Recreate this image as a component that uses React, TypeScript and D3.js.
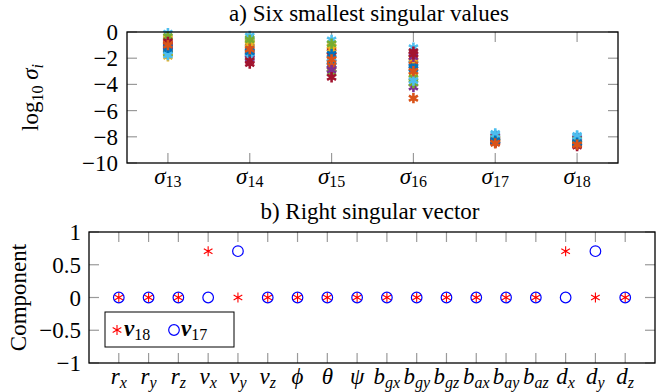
import React, { useRef, useEffect } from 'react';
import * as d3 from 'd3';

// a) log10 of the six smallest singular values, one value per run
const sigmaLabels = ['13', '14', '15', '16', '17', '18'];
const sigma13 = [-1.3, -1.6, -1.85, -0.9, -1.65, -0.1, -0.7, -1.4, -0.6, -0.45, -1.1, -0.35, -1.75, -0.75, -1.2, -1.0];
const sigma14 = [-1.6, -1.1, -0.7, -1.8, -0.5, -0.3, -2.4, -1.2, -1.7, -0.9, -2.0, -0.6, -1.9, -2.2, -1.5, -1.3];
const sigma15 = [-2.5, -1.8, -1.1, -2.8, -3.1, -0.6, -1.5, -2.3, -2.6, -1.3, -2.9, -0.9, -2.0, -3.45, -1.7, -2.1];
const sigma16 = [-2.4, -5.05, -3.3, -4.2, -3.5, -1.2, -1.5, -2.6, -2.2, -2.0, -1.9, -3.9, -3.7, -1.7, -2.8, -3.0];
const sigma17 = [-8.3, -8.4, -8.1, -8.0, -8.2, -7.75, -8.3, -8.35, -8.45, -8.2, -7.95, -8.1, -7.85, -8.4, -8.3, -8.5];
const sigma18 = [-8.45, -8.5, -8.3, -8.15, -8.4, -7.9, -8.55, -8.5, -8.6, -8.35, -8.1, -8.25, -8.0, -8.7, -8.45, -8.6];
const sigmaTicks = [0, -2, -4, -6, -8, -10];

// b) right singular vectors
const states = [
    ['r', 'x'], ['r', 'y'], ['r', 'z'], ['v', 'x'], ['v', 'y'], ['v', 'z'],
    ['ϕ', ''], ['θ', ''], ['ψ', ''], ['b', 'gx'], ['b', 'gy'], ['b', 'gz'],
    ['b', 'ax'], ['b', 'ay'], ['b', 'az'], ['d', 'x'], ['d', 'y'], ['d', 'z'],
];
const v18 = [0, 0, 0, 0.707, 0, 0, 0, 0, 0, 0, 0, 0, 0, 0, 0, 0.707, 0, 0];
const v17 = [0, 0, 0, 0, 0.707, 0, 0, 0, 0, 0, 0, 0, 0, 0, 0, 0, 0.707, 0];
const componentTicks = [1, 0.5, 0, -0.5, -1];

const runColors = ['#0072BD', '#D95319', '#EDB120', '#7E2F8E', '#77AC30', '#4DBEEE', '#A2142F'];

const FONT = 'Liberation Serif';

const asterisk = (x: number, y: number, r: number) => {
    const c = r * Math.cos(Math.PI / 6);
    const s = r * Math.sin(Math.PI / 6);
    return `M${x},${y - r}L${x},${y + r}M${x + c},${y - s}L${x - c},${y + s}M${x - c},${y - s}L${x + c},${y + s}`;
};

const fmt = (v: number) => (v < 0 ? '\u2212' + Math.abs(v) : String(v));

const App = () => {
    const svgRef = useRef<SVGSVGElement>(null);

    useEffect(() => {
        const svg = d3.select(svgRef.current);
        svg.selectAll('*').remove();

        const tickColor = '#9a9a9a';
        const tickLen = 10;
        const fs = 23;
        const sub = 16;

        // text helper: font set on each element
        const txt = (g: any, x: number, y: number, anchor = 'middle') =>
            g.append('text').attr('x', x).attr('y', y).attr('text-anchor', anchor)
                .attr('font-family', FONT).attr('font-size', fs).attr('fill', '#000');

        // ---------- panel a ----------
        const a = { left: 127, right: 618, top: 32, bottom: 163 };
        const xA = d3.scalePoint<string>().domain(sigmaLabels).range([a.left, a.right]).padding(0.5);
        const yA = d3.scaleLinear().domain([-10, 0]).range([a.bottom, a.top]);
        const columns = [sigma13, sigma14, sigma15, sigma16, sigma17, sigma18];
        const gA = svg.append('g');

        // ticks (inside, both sides)
        sigmaLabels.forEach(l => {
            const x = xA(l)!;
            gA.append('line').attr('x1', x).attr('x2', x).attr('y1', a.bottom).attr('y2', a.bottom - tickLen)
                .attr('stroke', tickColor).attr('stroke-width', 1.2);
            gA.append('line').attr('x1', x).attr('x2', x).attr('y1', a.top).attr('y2', a.top + tickLen)
                .attr('stroke', tickColor).attr('stroke-width', 1.2);
        });
        sigmaTicks.forEach(t => {
            const y = yA(t);
            gA.append('line').attr('x1', a.left).attr('x2', a.left + tickLen).attr('y1', y).attr('y2', y)
                .attr('stroke', tickColor).attr('stroke-width', 1.2);
            gA.append('line').attr('x1', a.right).attr('x2', a.right - tickLen).attr('y1', y).attr('y2', y)
                .attr('stroke', tickColor).attr('stroke-width', 1.2);
            txt(gA, a.left - 9, y, 'end').attr('dy', '0.35em').text(fmt(t));
        });

        // points, run by run
        const nRuns = sigma13.length;
        for (let run = 0; run < nRuns; run++) {
            columns.forEach((col, ci) => {
                gA.append('path')
                    .attr('d', asterisk(xA(sigmaLabels[ci])!, yA(col[run]), 5.2))
                    .attr('stroke', runColors[run % runColors.length])
                    .attr('stroke-width', 2.6)
                    .attr('fill', 'none');
            });
        }

        gA.append('rect').attr('x', a.left).attr('y', a.top).attr('width', a.right - a.left)
            .attr('height', a.bottom - a.top).attr('fill', 'none').attr('stroke', '#000').attr('stroke-width', 1.3);

        sigmaLabels.forEach(l => {
            const t = txt(gA, xA(l)!, 184);
            t.append('tspan').attr('font-style', 'italic').text('σ');
            t.append('tspan').attr('font-size', sub).attr('dy', 3).text(l);
        });

        txt(gA, 369, 21).text('a) Six smallest singular values');

        const yl = txt(gA, 0, 0).attr('transform', `translate(38,${(a.top + a.bottom) / 2}) rotate(-90)`);
        yl.append('tspan').text('log');
        yl.append('tspan').attr('font-size', sub).attr('dy', 5).text('10');
        yl.append('tspan').attr('dy', -5).attr('font-style', 'italic').text(' σ');
        yl.append('tspan').attr('font-size', sub).attr('font-style', 'italic').attr('dy', 5).text('i');

        // ---------- panel b ----------
        const b = { left: 89, right: 655, top: 232, bottom: 363 };
        const xB = d3.scaleLinear().domain([0, states.length + 1]).range([b.left, b.right]);
        const yB = d3.scaleLinear().domain([-1, 1]).range([b.bottom, b.top]);
        const gB = svg.append('g');

        states.forEach((s, i) => {
            const x = xB(i + 1);
            gB.append('line').attr('x1', x).attr('x2', x).attr('y1', b.bottom).attr('y2', b.bottom - tickLen)
                .attr('stroke', tickColor).attr('stroke-width', 1.2);
            gB.append('line').attr('x1', x).attr('x2', x).attr('y1', b.top).attr('y2', b.top + tickLen)
                .attr('stroke', tickColor).attr('stroke-width', 1.2);
            const t = txt(gB, x, 384);
            t.append('tspan').attr('font-style', 'italic').text(s[0]);
            if (s[1]) t.append('tspan').attr('font-style', 'italic').attr('font-size', sub).attr('dy', 4).text(s[1]);
        });
        componentTicks.forEach(t => {
            const y = yB(t);
            gB.append('line').attr('x1', b.left).attr('x2', b.left + tickLen).attr('y1', y).attr('y2', y)
                .attr('stroke', tickColor).attr('stroke-width', 1.2);
            gB.append('line').attr('x1', b.right).attr('x2', b.right - tickLen).attr('y1', y).attr('y2', y)
                .attr('stroke', tickColor).attr('stroke-width', 1.2);
            txt(gB, b.left - 8, y, 'end').attr('dy', '0.35em').text(fmt(t));
        });

        v18.forEach((v, i) => {
            gB.append('path').attr('d', asterisk(xB(i + 1), yB(v), 5))
                .attr('stroke', 'red').attr('stroke-width', 1.1).attr('fill', 'none');
        });
        v17.forEach((v, i) => {
            gB.append('circle').attr('cx', xB(i + 1)).attr('cy', yB(v)).attr('r', 5.3)
                .attr('stroke', 'blue').attr('stroke-width', 1.2).attr('fill', 'none');
        });

        gB.append('rect').attr('x', b.left).attr('y', b.top).attr('width', b.right - b.left)
            .attr('height', b.bottom - b.top).attr('fill', 'none').attr('stroke', '#000').attr('stroke-width', 1.3);

        txt(gB, 370, 219).text('b) Right singular vector');

        txt(gB, 0, 0).attr('transform', `translate(26,${(b.top + b.bottom) / 2}) rotate(-90)`).text('Component');

        // legend
        const lg = gB.append('g').attr('transform', 'translate(105,312)');
        lg.append('rect').attr('width', 129).attr('height', 35).attr('fill', '#fff')
            .attr('stroke', '#000').attr('stroke-width', 1);
        lg.append('path').attr('d', asterisk(12, 18, 5)).attr('stroke', 'red').attr('stroke-width', 1.1).attr('fill', 'none');
        const l1 = txt(lg, 19, 24, 'start');
        l1.append('tspan').attr('font-weight', 'bold').attr('font-style', 'italic').text('v');
        l1.append('tspan').attr('font-size', sub).attr('dy', 4).text('18');
        lg.append('circle').attr('cx', 69).attr('cy', 18).attr('r', 5.3)
            .attr('stroke', 'blue').attr('stroke-width', 1.2).attr('fill', 'none');
        const l2 = txt(lg, 76, 24, 'start');
        l2.append('tspan').attr('font-weight', 'bold').attr('font-style', 'italic').text('v');
        l2.append('tspan').attr('font-size', sub).attr('dy', 4).text('17');
    }, []);

    return (
        <svg ref={svgRef} width={669} height={392} style={{ position: 'absolute', left: 0, top: 0 }} />
    );
};

export default App;
